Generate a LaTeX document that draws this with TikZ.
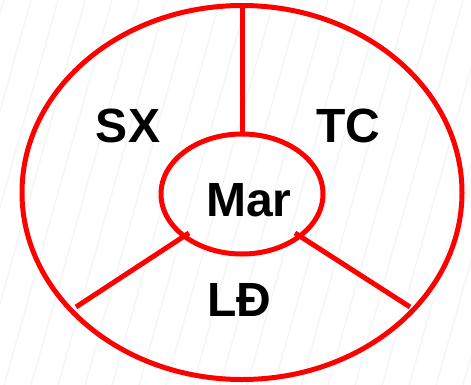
\documentclass[tikz,border=0pt]{standalone}
\usepackage{fontspec}
\setmainfont{Liberation Sans}
\usetikzlibrary{shapes.geometric}
\begin{document}
\begin{tikzpicture}[x=1pt,y=-1pt,
  redline/.style={draw=red,line width=5pt},
  lab/.style={font=\fontsize{48}{50}\selectfont\bfseries,text=black,inner sep=0pt}]
\useasboundingbox (0,0) rectangle (471,384);
\begin{scope}
\clip (0,0) rectangle (471,384);
\foreach \i in {-6,...,20}{
  \draw[black!4,line width=1.5pt] (\i*27,400) -- (\i*27+112,0);
}
\end{scope}
\draw[redline] (242,192.5) ellipse [x radius=220, y radius=187];
\node[redline,ellipse,minimum width=162,minimum height=120,inner sep=0pt] (mar) at (242,194) {};
\node[lab] at (249,200) {Mar};
\coordinate (top) at (242,5);
\coordinate (mt) at (242,133);
\coordinate (l1) at (76,307);
\coordinate (l2) at (189,233);
\coordinate (r1) at (295,233);
\coordinate (r2) at (410,307);
\draw[red,line width=5pt] (top) -- (mt);
\draw[red,line width=5pt] (l1) -- (l2);
\draw[red,line width=5pt] (r1) -- (r2);
\node[lab] (sx) at (128,126) {SX};
\node[lab] (tc) at (348,126) {TC};
\node[lab] (ld) at (239,300) {LĐ};
\end{tikzpicture}
\end{document}
